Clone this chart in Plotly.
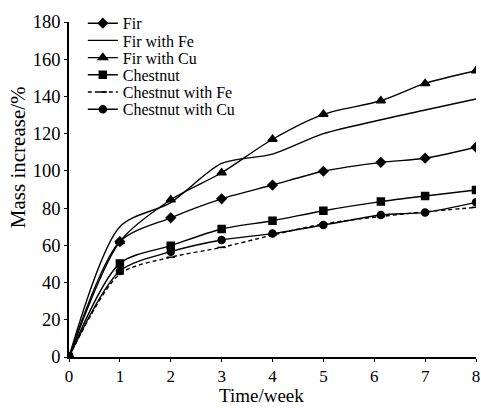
import plotly.graph_objects as go

weeks = [0, 1, 2, 3, 4, 5, 6.13, 7, 8]
fir = [0, 62, 74.8, 85, 92.4, 99.8, 104.6, 106.8, 112.7]
fir_fe = [0, 70, 83, 104, 109, 120, 127.5, 132.7, 138.6]
fir_cu = [0, 62, 84.5, 99, 117, 130.4, 137.7, 147, 153.8]
chestnut = [0, 50.3, 59.8, 68.8, 73.2, 78.6, 83.5, 86.5, 89.7]
chestnut_fe = [0, 44.6, 53.6, 58.9, 65.5, 71.5, 75.5, 78, 80.4]
chestnut_cu = [0, 46.2, 56.6, 62.9, 66.3, 70.9, 76.3, 77.7, 83.1]

series = [
    ("Fir", fir, "diamond", 7, "solid", "lines+markers"),
    ("Fir with Fe", fir_fe, "circle", 1, "solid", "lines"),
    ("Fir with Cu", fir_cu, "triangle-up", 8, "solid", "lines+markers"),
    ("Chestnut", chestnut, "square", 7, "solid", "lines+markers"),
    ("Chestnut with Fe", chestnut_fe, "line-ew", 6, "4px,3px", "lines+markers"),
    ("Chestnut with Cu", chestnut_cu, "circle", 7, "solid", "lines+markers"),
]

H = 408
plot_top, plot_bottom = 22, 357
legend_first_px, legend_step_px = 23.3, 17.2

fig = go.Figure()
legend_layout = {}
for i, (name, ys, sym, size, dash, mode) in enumerate(series):
    lg = "legend" if i == 0 else f"legend{i+1}"
    fig.add_trace(go.Scatter(
        x=weeks, y=ys, name=name, mode=mode, legend=lg,
        line=dict(color="black", width=1.4, dash=dash, shape="spline", smoothing=0.8),
        marker=dict(symbol=sym, size=size, color="black",
                    line=dict(color="black", width=1.5)),
    ))
    py = legend_first_px + i * legend_step_px
    legend_layout[lg] = dict(
        x=0.034, y=(plot_bottom - py) / (plot_bottom - plot_top),
        xanchor="left", yanchor="middle", bgcolor="rgba(0,0,0,0)",
        font=dict(size=16), itemwidth=30,
    )

font = "Liberation Serif, Times New Roman, serif"
fig.update_layout(
    width=481, height=H,
    margin=dict(l=69, r=5, t=22, b=51),
    paper_bgcolor="white", plot_bgcolor="white",
    font=dict(family=font, size=18.5, color="black"),
    showlegend=True,
    xaxis=dict(range=[0, 8], dtick=1, tick0=0, showgrid=False, zeroline=False,
               showline=True, linecolor="black", linewidth=1.5, automargin=False,
               ticks="outside", ticklen=3, tickcolor="black",
               tickfont=dict(size=17)),
    yaxis=dict(range=[0, 180], dtick=20, tick0=0, showgrid=False, zeroline=False,
               showline=True, linecolor="black", linewidth=1.5, automargin=False,
               ticks="outside", ticklen=3, tickcolor="black"),
    annotations=[
        dict(text="Mass increase/%", textangle=-90, xref="paper", yref="paper",
             x=-0.125, y=(plot_bottom - 157) / (plot_bottom - plot_top),
             xanchor="center", yanchor="middle", showarrow=False,
             font=dict(size=21)),
        dict(text="Time/week", xref="paper", yref="paper",
             x=0.472, y=(plot_bottom - H) / (plot_bottom - plot_top),
             xanchor="center", yanchor="bottom", showarrow=False,
             font=dict(size=19)),
    ],
    **legend_layout,
)
fig.write_html("out.html")
